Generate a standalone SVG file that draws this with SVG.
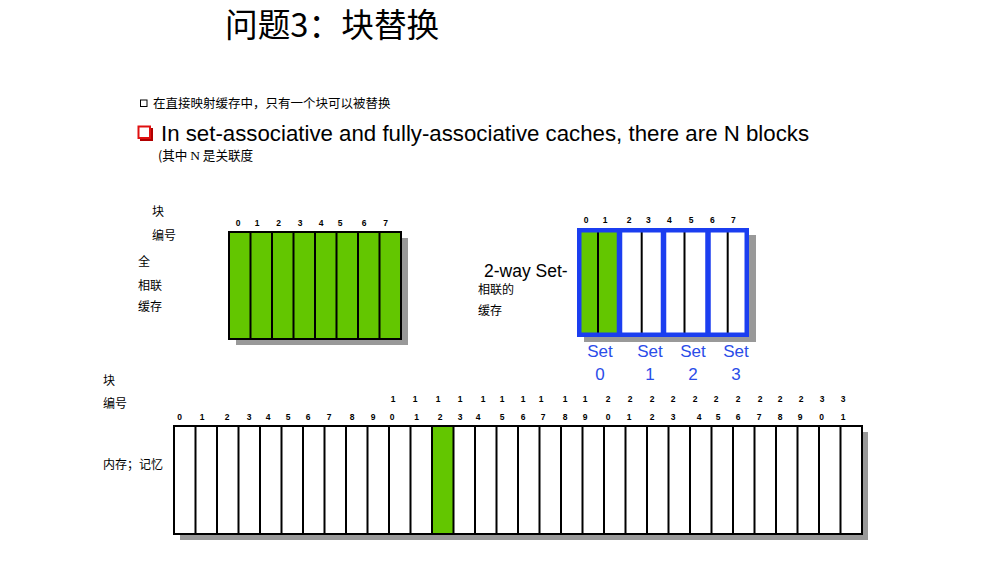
<svg xmlns="http://www.w3.org/2000/svg" width="1007" height="567" viewBox="0 0 1007 567">
<style>
.cjk{font-family:"Noto Sans CJK SC","Noto Sans",sans-serif;font-size:12px;fill:#000}
.lat{font-family:"Liberation Sans",Arial,sans-serif;fill:#000}
.num{font-family:"Liberation Sans",Arial,sans-serif;font-weight:bold;font-size:8.5px;text-anchor:middle;fill:#000}
.shadow{fill:#999}
.cell{fill:#fff;stroke:#000;stroke-width:2}
.green{fill:#63c600}
.div{stroke:#000;stroke-width:2;fill:none}
.blue{stroke:#1b3ef0;fill:none}
.set{font-family:"Liberation Sans",Arial,sans-serif;font-size:17px;fill:#2a4de8;text-anchor:middle}
</style>
<rect width="1007" height="567" fill="#fff"/>
<g id="title">
<text x="225" y="37" style="font-family:'Noto Sans CJK SC','Noto Sans',sans-serif;font-size:32.7px">问题3：块替换</text>
</g>
<g id="bullets">
<rect x="140.5" y="100" width="6.5" height="6.5" fill="none" stroke="#000" stroke-width="1"/>
<text x="153" y="107.5" class="cjk" style="font-size:12.5px">在直接映射缓存中，只有一个块可以被替换</text>
<rect x="140" y="128" width="13" height="13" fill="#b00000"/>
<rect x="138.5" y="126.5" width="11.5" height="11.5" fill="#fff" stroke="#e01010" stroke-width="2"/>
<text x="161" y="141" class="lat" style="font-size:22.25px">In set-associative and fully-associative caches, there are N blocks</text>
<text x="158" y="160" class="cjk" style="font-size:12.6px">(其中 <tspan style="font-family:'Liberation Serif',serif;font-size:13.5px">N</tspan> 是关联度</text>
</g>
<g id="fa-cache">
<rect x="236" y="238" width="172" height="107" class="shadow"/>
<rect x="229" y="232" width="172" height="107" class="green" stroke="#000" stroke-width="2"/>
<path class="div" d="M250.5 232V339M272 232V339M293.5 232V339M315 232V339M336.5 232V339M358 232V339M379.5 232V339"/>
<g class="num">
<text x="238" y="226">0</text><text x="257" y="226">1</text><text x="278.5" y="226">2</text><text x="300" y="226">3</text><text x="321" y="226">4</text><text x="340" y="226">5</text><text x="364" y="226">6</text><text x="385.5" y="226">7</text>
</g>
<text x="152" y="215.5" class="cjk">块</text>
<text x="152" y="239.5" class="cjk">编号</text>
<text x="138" y="266" class="cjk">全</text>
<text x="138" y="289.5" class="cjk">相联</text>
<text x="138" y="311" class="cjk">缓存</text>
</g>
<g id="sa-cache">
<rect x="584" y="235" width="172" height="107" class="shadow"/>
<rect x="577" y="228" width="172" height="109" fill="#fff"/>
<rect x="577" y="228" width="43" height="109" class="green"/>
<path class="div" d="M598 231V334M641.7 231V334M684.5 231V334M727.7 231V334"/>
<path class="blue" stroke-width="5.5" d="M619.5 230V335M663.5 230V335M708 230V335"/>
<rect x="579.25" y="230.25" width="167.5" height="104.5" class="blue" stroke-width="4.5"/>
<g class="num">
<text x="586" y="222.7">0</text><text x="605" y="222.7">1</text><text x="629" y="222.7">2</text><text x="648.3" y="222.7">3</text><text x="669.3" y="222.7">4</text><text x="691" y="222.7">5</text><text x="712.3" y="222.7">6</text><text x="733.3" y="222.7">7</text>
</g>
<text x="484" y="276.7" class="lat" style="font-size:17.5px">2-way Set-</text>
<text x="478" y="294" class="cjk">相联的</text>
<text x="478" y="315" class="cjk">缓存</text>
<text x="600" y="357" class="set">Set</text><text x="600" y="380" class="set">0</text>
<text x="650" y="357" class="set">Set</text><text x="650" y="380" class="set">1</text>
<text x="693" y="357" class="set">Set</text><text x="693" y="380" class="set">2</text>
<text x="736" y="357" class="set">Set</text><text x="736" y="380" class="set">3</text>
</g>
<g id="memory">
<rect x="180" y="432" width="688" height="108" class="shadow"/>
<rect x="174" y="426" width="688" height="108" class="cell"/>
<rect x="432" y="426" width="21.5" height="108" class="green"/>
<path class="div" d="M195.5 426V534M217 426V534M238.5 426V534M260 426V534M281.5 426V534M303 426V534M324.5 426V534M346 426V534M367.5 426V534M389 426V534M410.5 426V534M432 426V534M453.5 426V534M475 426V534M496.5 426V534M518 426V534M539.5 426V534M561 426V534M582.5 426V534M604 426V534M625.5 426V534M647 426V534M668.5 426V534M690 426V534M711.5 426V534M733 426V534M754.5 426V534M776 426V534M797.5 426V534M819 426V534M840.5 426V534"/>
<rect x="174" y="426" width="688" height="108" fill="none" stroke="#000" stroke-width="2"/>
<g class="num">
<text x="393" y="402">1</text><text x="415" y="402">1</text><text x="438" y="402">1</text><text x="460" y="402">1</text><text x="483" y="402">1</text><text x="502" y="402">1</text><text x="523" y="402">1</text><text x="541" y="402">1</text><text x="565" y="402">1</text><text x="585" y="402">1</text>
<text x="608" y="402">2</text><text x="630" y="402">2</text><text x="652" y="402">2</text><text x="673" y="402">2</text><text x="695" y="402">2</text><text x="716" y="402">2</text><text x="738" y="402">2</text><text x="760" y="402">2</text><text x="780" y="402">2</text><text x="801" y="402">2</text>
<text x="822" y="402">3</text><text x="843" y="402">3</text>
<text x="179.5" y="420">0</text><text x="202" y="420">1</text><text x="227" y="420">2</text><text x="249" y="420">3</text><text x="268" y="420">4</text><text x="288" y="420">5</text><text x="308" y="420">6</text><text x="329" y="420">7</text><text x="352" y="420">8</text><text x="373" y="420">9</text>
<text x="392" y="420">0</text><text x="416.5" y="420">1</text><text x="440" y="420">2</text><text x="460" y="420">3</text><text x="478" y="420">4</text><text x="502" y="420">5</text><text x="523" y="420">6</text><text x="543" y="420">7</text><text x="565" y="420">8</text><text x="585" y="420">9</text>
<text x="608" y="420">0</text><text x="629" y="420">1</text><text x="652" y="420">2</text><text x="673" y="420">3</text><text x="699" y="420">4</text><text x="718" y="420">5</text><text x="738" y="420">6</text><text x="759" y="420">7</text><text x="780" y="420">8</text><text x="800" y="420">9</text>
<text x="821.7" y="420">0</text><text x="843" y="420">1</text>
</g>
<text x="103" y="384.5" class="cjk">块</text>
<text x="103" y="407.5" class="cjk">编号</text>
<text x="103" y="468.5" class="cjk">内存；记忆</text>
</g>
<g id="connectors"/>
</svg>
